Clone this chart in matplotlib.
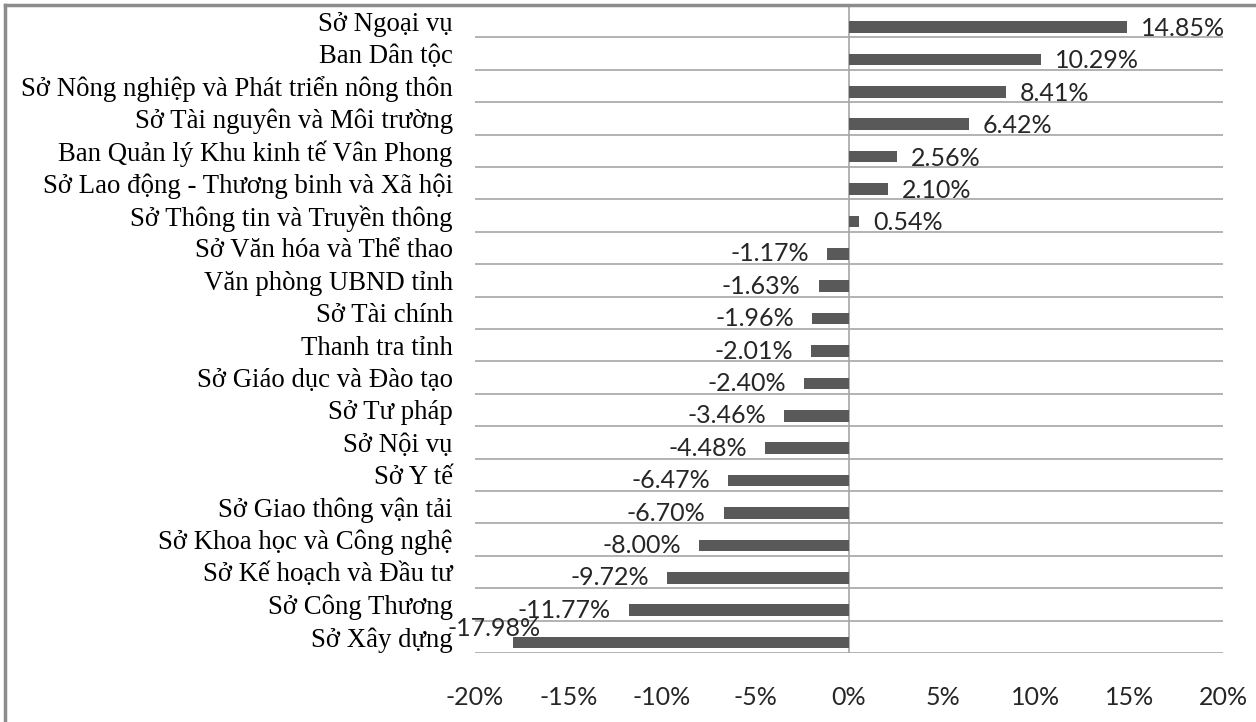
import matplotlib
matplotlib.use("Agg")
import matplotlib.pyplot as plt
from matplotlib.lines import Line2D
from matplotlib.ticker import FuncFormatter

# departments (top to bottom) and change in %
departments = [
    "Sở Ngoại vụ",
    "Ban Dân tộc",
    "Sở Nông nghiệp và Phát triển nông thôn",
    "Sở Tài nguyên và Môi trường",
    "Ban Quản lý Khu kinh tế Vân Phong",
    "Sở Lao động - Thương binh và Xã hội",
    "Sở Thông tin và Truyền thông",
    "Sở Văn hóa và Thể thao",
    "Văn phòng UBND tỉnh",
    "Sở Tài chính",
    "Thanh tra tỉnh",
    "Sở Giáo dục và Đào tạo",
    "Sở Tư pháp",
    "Sở Nội vụ",
    "Sở Y tế",
    "Sở Giao thông vận tải",
    "Sở Khoa học và Công nghệ",
    "Sở Kế hoạch và Đầu tư",
    "Sở Công Thương",
    "Sở Xây dựng",
]
changes = [14.85, 10.29, 8.41, 6.42, 2.56, 2.10, 0.54, -1.17, -1.63, -1.96,
           -2.01, -2.40, -3.46, -4.48, -6.47, -6.70, -8.00, -9.72, -11.77, -17.98]
x_ticks = [-20, -15, -10, -5, 0, 5, 10, 15, 20]

serif = "Liberation Serif"
sans = "Lato"
bar_color = "#595959"
grid_color = "#a6a6a6"
text_color = "#262626"

fig = plt.figure(figsize=(12.56, 7.22), dpi=100)
ax = fig.add_axes([475 / 1256, 1 - 653 / 722, (1223 - 475) / 1256, (653 - 5) / 722])

n = len(departments)
pos = list(range(n))
bar_pos = [p + 0.18 for p in pos]
ax.barh(bar_pos, changes, height=0.36, color=bar_color, zorder=3)

ax.set_xlim(-20, 20)
ax.set_ylim(n - 0.5, -0.5)

# horizontal gridlines at band boundaries
for p in pos:
    ax.axhline(p + 0.5, color=grid_color, linewidth=1.2, zorder=1)
ax.axvline(0, color=grid_color, linewidth=1.2, zorder=2)

ax.set_yticks(pos)
ax.set_yticklabels(departments, fontfamily=serif, fontsize=19.3)
ax.tick_params(axis="y", length=0, pad=16)
ax.set_xticks(x_ticks)
ax.xaxis.set_major_formatter(FuncFormatter(lambda v, _: f"{v:.0f}%"))
ax.tick_params(axis="x", length=0, pad=24, labelsize=18)
for lab in ax.get_xticklabels():
    lab.set_fontfamily(sans)
    lab.set_color(text_color)

for s in ax.spines.values():
    s.set_visible(False)

for i, (y, v) in enumerate(zip(bar_pos, changes)):
    txt = f"{v:.2f}%"
    if i == n - 1:
        ax.text(v - 1.0, y - 0.45, txt, ha="center", va="center",
                fontfamily=sans, fontsize=18, color=text_color, zorder=4)
    elif v >= 0:
        ax.annotate(txt, (v, y), xytext=(10, -1), textcoords="offset points",
                    ha="left", va="center", fontfamily=sans, fontsize=18,
                    color=text_color)
    else:
        ax.annotate(txt, (v, y), xytext=(-13, 0), textcoords="offset points",
                    ha="right", va="center", fontfamily=sans, fontsize=18,
                    color=text_color)

# outer chart border (left and top visible)
fig.add_artist(Line2D([5 / 1256, 5 / 1256], [0, 1 - 5 / 722], transform=fig.transFigure,
                      color="#8c8c8c", linewidth=2.5))
fig.add_artist(Line2D([5 / 1256, 1], [1 - 5 / 722, 1 - 5 / 722], transform=fig.transFigure,
                      color="#8c8c8c", linewidth=2.5))

fig.savefig("out.png", dpi=100)
